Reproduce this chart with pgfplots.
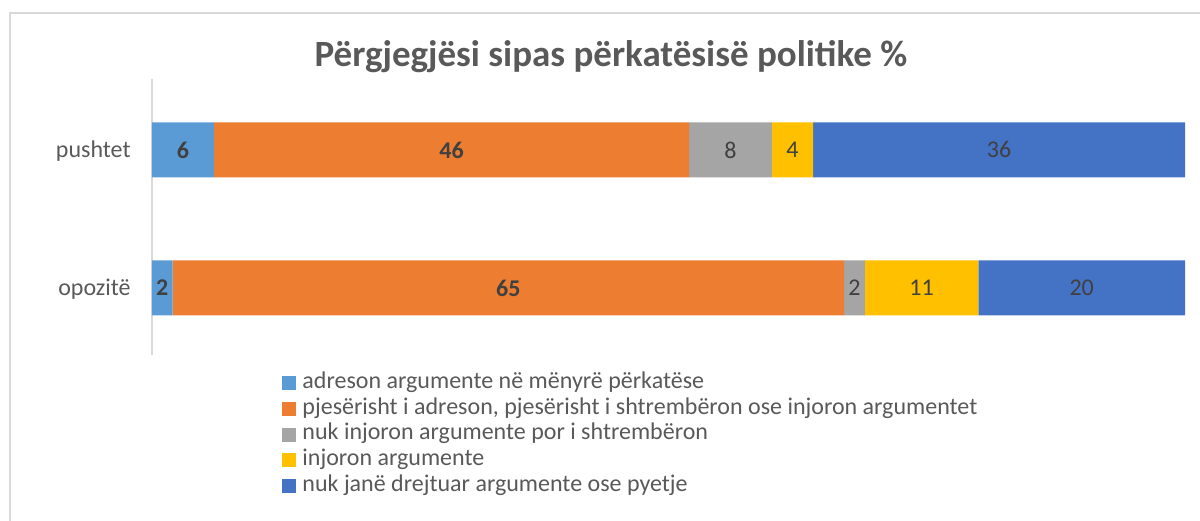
\documentclass[border=0pt]{standalone}
\usepackage{pgfplots}
\pgfplotsset{compat=1.18}
\usepackage{fontspec}
\setmainfont{Carlito}
\definecolor{cA}{HTML}{5B9BD5}
\definecolor{cB}{HTML}{ED7D31}
\definecolor{cC}{HTML}{A5A5A5}
\definecolor{cD}{HTML}{FFC000}
\definecolor{cE}{HTML}{4472C4}
\definecolor{txt}{HTML}{595959}
\definecolor{lbl}{HTML}{404040}
\definecolor{frame}{HTML}{D9D9D9}

\begin{document}
\begin{tikzpicture}
% page = 1200x520 px at 0.5pt per px, axis origin at px (152,355)
\path[use as bounding box] (-76pt,-82.5pt) rectangle (524pt,177.5pt);
\draw[frame, line width=1pt] (-71pt,-100pt) -- (-71pt,171pt) -- (620pt,171pt);
\node[txt, font=\bfseries\fontsize{18.5}{22}\selectfont] at (229.5pt,149pt)
  {Përgjegjësi sipas përkatësisë politike \%};

\begin{axis}[
  at={(0pt,0pt)}, anchor=south west,
  scale only axis,
  width=516.5pt, height=138pt,
  xbar stacked, bar width=27.5pt,
  xmin=0, xmax=100, ymin=-0.486, ymax=1.514,
  axis x line=none,
  axis y line*=left,
  y axis line style={draw=frame, line width=1pt},
  ytick={0,1}, yticklabels={opozitë,pushtet},
  major tick length=0pt,
  yticklabel style={txt, font=\fontsize{12}{14}\selectfont, inner sep=0pt, xshift=-10.5pt, yshift=-0.5pt},
  /pgf/number format/assume math mode=true,
  point meta=explicit,
  nodes near coords,
  nodes near coords style={font=\fontsize{12}{14}\selectfont, text=lbl, anchor=center},
  legend style={at={(0.1201,-0.04)}, anchor=north west, draw=none, fill=none,
    font=\fontsize{12}{14}\selectfont, text=txt,
    nodes={inner sep=0pt, text height=9pt, text depth=3.85pt},
    column sep=3pt, row sep=0pt},
  legend cell align=left,
  legend image code/.code={\fill[#1] (0pt,-3.5pt) rectangle (7pt,3.5pt);},
]
\addplot[fill=cA, draw=none, nodes near coords style={font=\bfseries\fontsize{12}{14}\selectfont}]
  coordinates {(6,1) [6] (2,0) [2]};
\addplot[fill=cB, draw=none, nodes near coords style={font=\bfseries\fontsize{12}{14}\selectfont}]
  coordinates {(46,1) [46] (65,0) [65]};
\addplot[fill=cC, draw=none] coordinates {(8,1) [8] (2,0) [2]};
\addplot[fill=cD, draw=none] coordinates {(4,1) [4] (11,0) [11]};
\addplot[fill=cE, draw=none] coordinates {(36,1) [36] (20,0) [20]};
\legend{adreson argumente në mënyrë përkatëse,
  {pjesërisht i adreson, pjesërisht i shtrembëron ose injoron argumentet},
  nuk injoron argumente por i shtrembëron,
  injoron argumente,
  nuk janë drejtuar argumente ose pyetje}
\end{axis}
\end{tikzpicture}
\end{document}
